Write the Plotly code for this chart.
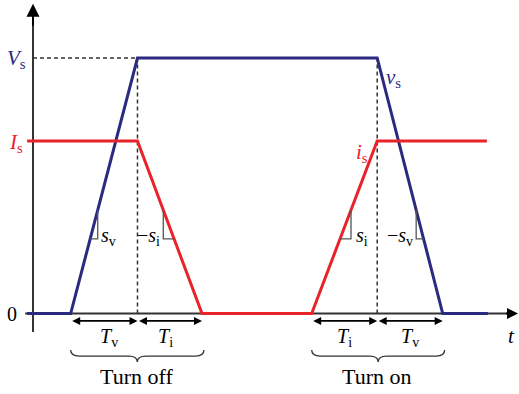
import numpy as np
import plotly.graph_objects as go

# Switching waveforms (normalised: V_s = 1), time in units of the transition time
V_S = 1.0
I_S = 0.675

t_v = [-0.09, 0.575, 1.595, 5.255, 6.255, 6.945]
v_s = [0.0, 0.0, V_S, V_S, 0.0, 0.0]

t_i = [-0.09, 1.595, 2.58, 4.255, 5.255, 6.93]
i_s = [I_S, I_S, 0.0, 0.0, I_S, I_S]

# Key instants taken from the waveforms
t_off0, t_off1, t_off2 = t_v[1], t_v[2], t_i[2]
t_on0, t_on1, t_on2 = t_i[3], t_i[4], t_v[4]

# Slope-marker levels (upper / lower corner of each small triangle)
slope_hi, slope_lo = 0.405, 0.292

BLUE = "#2b2a80"
RED = "#e8232a"
INK = "#333333"
SERIF = "Liberation Serif"

X_RANGE = [-0.504, 7.42]
Y_RANGE = [-0.315, 1.227]

fig = go.Figure()

fig.add_trace(go.Scatter(x=t_v, y=v_s, mode="lines",
                         line=dict(color=BLUE, width=3), hoverinfo="skip"))
fig.add_trace(go.Scatter(x=t_i, y=i_s, mode="lines",
                         line=dict(color=RED, width=3), hoverinfo="skip"))

shapes = []
# axes (drawn under the waveforms)
shapes.append(dict(type="line", xref="x", yref="y", x0=-0.12, x1=7.35, y0=0, y1=0,
                   line=dict(color=INK, width=2), layer="below"))
shapes.append(dict(type="line", xref="x", yref="y", x0=0, x1=0, y0=-0.072, y1=1.17,
                   line=dict(color=INK, width=2), layer="below"))
# dashed guides
dash = dict(color=INK, width=1.5, dash="4px,3px")
shapes.append(dict(type="line", xref="x", yref="y", x0=0, x1=t_off1, y0=V_S, y1=V_S,
                   line=dash, layer="below"))
for tx in (t_off1, t_on1):
    shapes.append(dict(type="line", xref="x", yref="y", x0=tx, x1=tx, y0=0, y1=V_S,
                       line=dash, layer="below"))


def slope_marker(ts, ys, seg):
    """Small right-angle triangle on segment `seg` of a waveform."""
    xs_seg = np.array(ts[seg:seg + 2])
    ys_seg = np.array(ys[seg:seg + 2])
    order = np.argsort(ys_seg)
    x_hi = float(np.interp(slope_hi, ys_seg[order], xs_seg[order]))
    x_lo = float(np.interp(slope_lo, ys_seg[order], xs_seg[order]))
    shapes.append(dict(type="path", xref="x", yref="y",
                       path=f"M {x_hi},{slope_hi} L {x_hi},{slope_lo} L {x_lo},{slope_lo}",
                       line=dict(color="#555555", width=1.3)))
    return x_hi


x_sv = slope_marker(t_v, v_s, 1)
x_si_off = slope_marker(t_i, i_s, 1)
x_si_on = slope_marker(t_i, i_s, 3)
x_sv_on = slope_marker(t_v, v_s, 3)


def brace(x0, x1, y_top, depth, r=0.13):
    ym = y_top - depth / 2
    yb = y_top - depth
    xm = (x0 + x1) / 2
    return (f"M {x0},{y_top} Q {x0},{ym} {x0 + r},{ym} L {xm - r},{ym} "
            f"Q {xm},{ym} {xm},{yb} Q {xm},{ym} {xm + r},{ym} "
            f"L {x1 - r},{ym} Q {x1},{ym} {x1},{y_top}")


brace_top, brace_depth = -0.143, 0.047
for a, b in ((t_off0, t_off2 + 0.03), (t_on0, t_on2 + 0.03)):
    shapes.append(dict(type="path", xref="x", yref="y",
                       path=brace(a, b, brace_top, brace_depth),
                       line=dict(color=INK, width=1.3)))

ann = []


def arrow(x, y, ax, ay, **kw):
    d = dict(x=x, y=y, ax=ax, ay=ay, xref="x", yref="y", axref="x", ayref="y",
             text="", showarrow=True, arrowcolor="black", standoff=0, startstandoff=0)
    d.update(kw)
    ann.append(d)


# axis arrowheads
arrow(0, 1.212, 0, 1.12, arrowhead=2, arrowwidth=2, arrowsize=1.3)
arrow(7.405, 0, 7.2, 0, arrowhead=2, arrowwidth=2, arrowsize=1.1)

# duration arrows
y_arr = -0.029
for a, b in ((t_off0, t_off1), (t_off1, t_off2), (t_on0, t_on1), (t_on1, t_on2)):
    arrow(b, y_arr, a, y_arr, arrowhead=2, arrowside="end+start",
          arrowwidth=1.6, arrowsize=1.0)


def label(x, y, text, size=19, color="black", **kw):
    d = dict(x=x, y=y, xref="x", yref="y", text=text, showarrow=False,
             font=dict(family=SERIF, size=size, color=color))
    d.update(kw)
    ann.append(d)


label(0, V_S, "<i>V</i><sub>s</sub>", 21, BLUE, xanchor="right", xshift=-5, yshift=-1)
label(0, I_S, "<i>I</i><sub>s</sub>", 21, RED, xanchor="right", xshift=-8, yshift=-2)
label(0, 0, "0", 20, "black", xanchor="right", xshift=-14)
label(7.31, -0.088, "<i>t</i>", 21)

label(t_on1, 0.922, "<i>v</i><sub>s</sub>", 21, BLUE, xanchor="left", xshift=7)
label(t_on1, 0.628, "<i>i</i><sub>s</sub>", 21, RED, xanchor="right", xshift=-7)

label(x_sv, 0.30, "<i>s</i><sub>v</sub>", 20, xanchor="left", xshift=1)
label(x_si_off, 0.30, "\u2212<i>s</i><sub>i</sub>", 20, xanchor="right", xshift=-1)
label(x_si_on, 0.30, "<i>s</i><sub>i</sub>", 20, xanchor="left", xshift=3)
label(x_sv_on, 0.30, "\u2212<i>s</i><sub>v</sub>", 20, xanchor="right", xshift=-1)

y_T = -0.095
label((t_off0 + t_off1) / 2, y_T, "<i>T</i><sub>v</sub>", 20, xshift=5)
label((t_off1 + t_off2) / 2, y_T, "<i>T</i><sub>i</sub>", 20, xshift=-4)
label((t_on0 + t_on1) / 2, y_T, "<i>T</i><sub>i</sub>", 20)
label((t_on1 + t_on2) / 2, y_T, "<i>T</i><sub>v</sub>", 20)

label((t_off0 + t_off2) / 2, -0.245, "Turn off", 22)
label((t_on0 + t_on2) / 2, -0.245, "Turn on", 22)

fig.update_layout(
    width=519, height=394,
    margin=dict(l=0, r=0, t=0, b=0),
    paper_bgcolor="white", plot_bgcolor="white",
    showlegend=False,
    xaxis=dict(range=X_RANGE, visible=False, fixedrange=True),
    yaxis=dict(range=Y_RANGE, visible=False, fixedrange=True),
    shapes=shapes, annotations=ann,
)

fig.write_html("out.html")
